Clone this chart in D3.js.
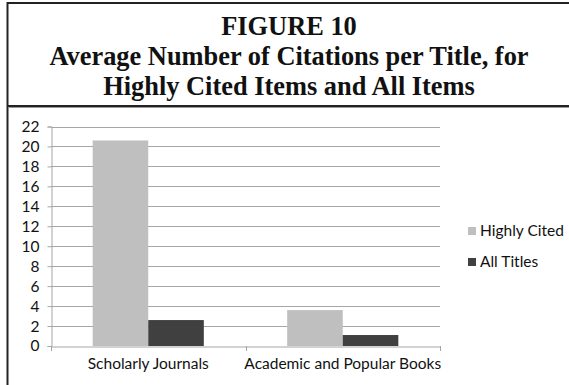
<!DOCTYPE html>
<html>
<head>
<meta charset="utf-8">
<script src="https://cdn.jsdelivr.net/npm/d3@7"></script>
<style>
  html, body { margin: 0; padding: 0; background: #fff; }
  svg { display: block; }
</style>
</head>
<body>
<svg id="chart" width="569" height="385"></svg>
<script>
// Chart data
const categories = ["Scholarly Journals", "Academic and Popular Books"];
const seriesNames = ["Highly Cited", "All Titles"];
const highlyCited = [20.6, 3.6];
const allTitles = [2.6, 1.1];
const yTicks = [0, 2, 4, 6, 8, 10, 12, 14, 16, 18, 20, 22];
const titleLines = ["FIGURE 10", "Average Number of Citations per Title, for", "Highly Cited Items and All Items"];

const colors = ["#bfbfbf", "#404040"];
const gridColor = "#a6a6a6";
const labelFont = "Lato, Open Sans, sans-serif";
const labelSize = 15.5;

const svg = d3.select("#chart");

// Frame: top rule, left rule and the rule under the heading
svg.append("line").attr("x1", 7).attr("x2", 569).attr("y1", 3).attr("y2", 3)
  .attr("stroke", "#222").attr("stroke-width", 2);
svg.append("line").attr("x1", 7.5).attr("x2", 7.5).attr("y1", 2).attr("y2", 385)
  .attr("stroke", "#222").attr("stroke-width", 2);
svg.append("line").attr("x1", 7).attr("x2", 569).attr("y1", 106).attr("y2", 106)
  .attr("stroke", "#222").attr("stroke-width", 2);
svg.append("line").attr("x1", 8).attr("x2", 569).attr("y1", 107.5).attr("y2", 107.5)
  .attr("stroke", "#999").attr("stroke-width", 1);

// Heading
svg.append("g").selectAll("text").data(titleLines).join("text")
  .attr("x", 289)
  .attr("y", (d, i) => 35 + i * 30)
  .attr("text-anchor", "middle")
  .attr("font-family", "Liberation Serif, Times New Roman, serif")
  .attr("font-weight", "bold")
  .attr("font-size", 26.4)
  .attr("fill", "#111")
  .text(d => d);

// Plot area
const plotLeft = 51, plotRight = 440, plotTop = 126.5, plotBottom = 346;

const x0 = d3.scaleBand().domain(categories).range([plotLeft, plotRight]).paddingInner(0).paddingOuter(0);
const barW = x0.bandwidth() / (2 + 1.5);
const x1 = d3.scaleBand().domain(seriesNames).range([0, barW * 2]);
const y = d3.scaleLinear().domain([0, 22]).range([plotBottom, plotTop]);

// Gridlines
svg.append("g").selectAll("line").data(yTicks.filter(d => d > 0)).join("line")
  .attr("x1", plotLeft).attr("x2", plotRight)
  .attr("y1", d => Math.round(y(d)) + 0.5).attr("y2", d => Math.round(y(d)) + 0.5)
  .attr("stroke", gridColor).attr("stroke-width", 1);

// Bars
const rows = categories.map((c, i) => ({ cat: c, values: [highlyCited[i], allTitles[i]] }));
const groups = svg.append("g").selectAll("g").data(rows).join("g")
  .attr("transform", d => `translate(${x0(d.cat) + (x0.bandwidth() - barW * 2) / 2},0)`);
groups.selectAll("rect").data(d => d.values.map((v, j) => ({ v, s: seriesNames[j], j })))
  .join("rect")
  .attr("x", d => x1(d.s))
  .attr("width", x1.bandwidth())
  .attr("y", d => y(d.v))
  .attr("height", d => y(0) - y(d.v))
  .attr("fill", d => colors[d.j]);

// Y axis
const yAxis = d3.axisLeft(y).tickValues(yTicks).tickSize(4).tickPadding(8).tickFormat(d3.format("d"));
const gy = svg.append("g").attr("transform", `translate(${plotLeft + 0.5},0)`).call(yAxis);
gy.select(".domain").attr("stroke", gridColor);
gy.selectAll(".tick line").attr("stroke", gridColor);
gy.selectAll(".tick text").attr("font-family", labelFont).attr("font-size", labelSize).attr("fill", "#111");

// X axis
const gx = svg.append("g").attr("transform", `translate(0,${Math.round(plotBottom) + 0.5})`)
  .call(d3.axisBottom(x0).tickSize(0).tickPadding(11));
gx.select(".domain").attr("stroke", gridColor);
gx.selectAll(".tick text").attr("font-family", labelFont).attr("font-size", labelSize).attr("fill", "#111");
// Category separators
svg.append("g").selectAll("line").data([plotLeft, (plotLeft + plotRight) / 2, plotRight]).join("line")
  .attr("x1", d => Math.round(d) + 0.5).attr("x2", d => Math.round(d) + 0.5)
  .attr("y1", plotBottom).attr("y2", plotBottom + 5)
  .attr("stroke", gridColor);

// Legend
const legend = svg.append("g").selectAll("g").data(seriesNames).join("g")
  .attr("transform", (d, i) => `translate(468,${227 + i * 31})`);
legend.append("rect").attr("width", 8).attr("height", 8).attr("fill", (d, i) => colors[i]);
legend.append("text").attr("x", 12).attr("y", 9)
  .attr("font-family", labelFont).attr("font-size", labelSize).attr("fill", "#111")
  .text(d => d);
</script>
</body>
</html>
